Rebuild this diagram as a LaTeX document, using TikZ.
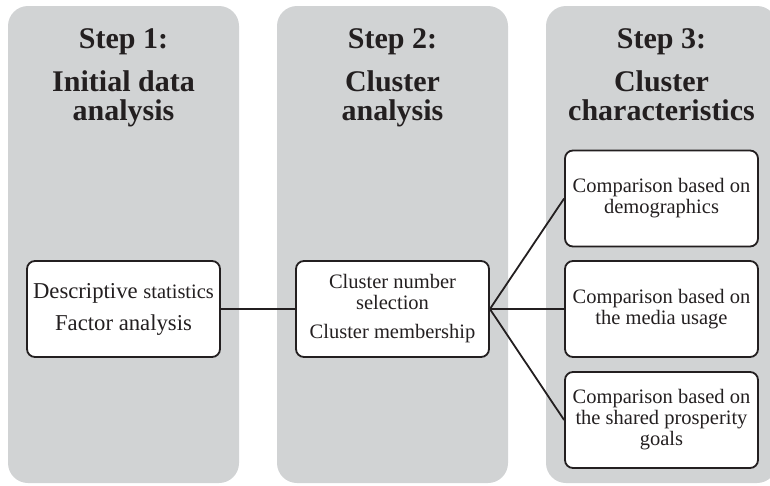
\documentclass[tikz,border=0pt]{standalone}
\usepackage{fontspec}
\setmainfont{Liberation Serif}
\definecolor{panelgray}{RGB}{209,211,212}
\definecolor{ink}{RGB}{35,31,32}
\begin{document}
\begin{tikzpicture}[x=1pt,y=-1pt,
  panel/.style={fill=panelgray, draw=none, rounded corners=20pt},
  title/.style={font=\bfseries\fontsize{30}{29}\selectfont, align=center, anchor=north, inner sep=0pt, text=ink},
  stepbox/.style={draw=ink, line width=1.8pt, fill=white, rounded corners=8pt, minimum width=193pt, minimum height=96pt, align=center, inner sep=0pt, text=ink, font=\fontsize{20.5}{21}\selectfont},
  link/.style={draw=ink, line width=1.8pt}]
\useasboundingbox (0,0) rectangle (770,485);
\clip (0,0) rectangle (770,485);
\fill[panel] (8,6) rectangle (239,483);
\fill[panel] (277,6) rectangle (508,483);
\fill[panel] (546,6) rectangle (777,483);

\node[title] (t1) at (123.5,28) {Step 1:\\[14pt]Initial data\\analysis};
\node[title] (t2) at (392.5,28) {Step 2:\\[14pt]Cluster\\analysis};
\node[title] (t3) at (661.5,28) {Step 3:\\[14pt]Cluster\\characteristics};

\node[stepbox, font=\fontsize{22.7}{23}\selectfont] (b1) at (123.5,309) {Descriptive {\fontsize{20.5}{23}\selectfont statistics}\\[9pt]Factor analysis};
\node[stepbox] (b2) at (392.5,309) {Cluster number\\selection\\[8pt]Cluster membership};
\node[stepbox] (c1) at (661.5,198.5) {Comparison based on\\demographics};
\node[stepbox] (c2) at (661.5,309) {Comparison based on\\the media usage};
\node[stepbox] (c3) at (661.5,420) {Comparison based on\\the shared prosperity\\goals};

\draw[link] (b1.east) -- (b2.west);
\draw[link] (b2.east) -- (c1.west);
\draw[link] (b2.east) -- (c2.west);
\draw[link] (b2.east) -- (c3.west);
\end{tikzpicture}
\end{document}
